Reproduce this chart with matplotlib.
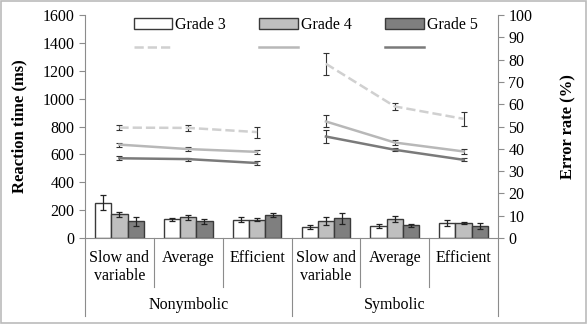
import matplotlib
matplotlib.use("Agg")
import matplotlib.pyplot as plt
import matplotlib.transforms as mtransforms
from matplotlib.lines import Line2D
from matplotlib.patches import Rectangle
import numpy as np

plt.rcParams['font.family'] = ['Liberation Serif', 'DejaVu Serif']
plt.rcParams['font.size'] = 11.5

# data
categories = ["Slow and\nvariable", "Average", "Efficient"]
groups = ["Nonymbolic", "Symbolic"]
grades = ["Grade 3", "Grade 4", "Grade 5"]

# error rate bars (%), nonsymbolic then symbolic
err_g3 = [15.8, 8.3, 8.2, 4.9, 5.5, 6.7]
err_g4 = [10.6, 9.3, 8.2, 7.5, 8.5, 6.7]
err_g5 = [7.4, 7.4, 10.2, 8.8, 5.7, 5.5]
err_g3_sd = [3.4, 0.8, 1.1, 1.0, 0.8, 1.3]
err_g4_sd = [1.1, 1.2, 0.8, 1.7, 1.2, 0.5]
err_g5_sd = [1.9, 0.9, 0.9, 2.4, 0.8, 1.3]

# reaction time lines (ms)
rt_g3 = [792, 790, 760, 1250, 944, 855]
rt_g4 = [670, 638, 618, 836, 685, 621]
rt_g5 = [572, 566, 538, 728, 633, 561]
rt_g3_sd = [20, 22, 40, 77, 26, 48]
rt_g4_sd = [15, 14, 14, 43, 15, 15]
rt_g5_sd = [15, 10, 12, 48, 12, 10]

bar_colors = ["white", "#bfbfbf", "#7f7f7f"]
line_colors = ["#d0d0d0", "#b8b8b8", "#7a7a7a"]
line_styles = ["--", "-", "-"]
axis_gray = "#8c8c8c"

fig = plt.figure(figsize=(5.87, 3.24), dpi=100)
ax = fig.add_axes([85/587, 1-238/324, (498-85)/587, (238-15)/324])
ax2 = ax.twinx()

x = np.arange(6)
w = 0.235
bars = [err_g3, err_g4, err_g5]
bars_sd = [err_g3_sd, err_g4_sd, err_g5_sd]
handles_bar = []
for i in range(3):
    b = ax2.bar(x + (i - 1) * w, bars[i], w, color=bar_colors[i], edgecolor="#3a3a3a",
                linewidth=1.0, yerr=bars_sd[i], capsize=2.5,
                error_kw=dict(ecolor="#222222", elinewidth=0.9, capthick=0.9), zorder=2)
    handles_bar.append(b)

lines = [rt_g3, rt_g4, rt_g5]
lines_sd = [rt_g3_sd, rt_g4_sd, rt_g5_sd]
handles_line = []
for i in range(3):
    for g in range(2):
        xs = x[g*3:(g+1)*3]
        ys = lines[i][g*3:(g+1)*3]
        sd = lines_sd[i][g*3:(g+1)*3]
        ax.errorbar(xs, ys, yerr=sd, color=line_colors[i], ls=line_styles[i], lw=1.8,
                    ecolor="#333333", elinewidth=0.8, capsize=2.5, capthick=0.8, zorder=3)
    handles_line.append(Line2D([0], [0], color=line_colors[i], ls=line_styles[i], lw=1.8))

ax.set_zorder(ax2.get_zorder() + 1)
ax.patch.set_visible(False)

ax.set_xlim(-0.5, 5.5)
ax.set_ylim(0, 1600)
ax.set_yticks(np.arange(0, 1601, 200))
ax2.set_ylim(0, 100)
ax2.set_yticks(np.arange(0, 101, 10))
ax.set_xticks([])

for a in (ax, ax2):
    for s in a.spines.values():
        s.set_color(axis_gray)
    a.spines['top'].set_visible(False)
    a.tick_params(axis='y', colors=axis_gray, labelcolor='black', length=4, width=0.8)
ax2.spines['left'].set_visible(False)
ax.spines['right'].set_visible(False)
ax2.spines['bottom'].set_visible(False)

ax.set_ylabel("Reaction time (ms)", fontweight='bold', fontsize=12)
ax2.set_ylabel("Error rate (%)", fontweight='bold', fontsize=12)
ax.yaxis.set_label_coords(-0.14, 0.5)
ax2.yaxis.set_label_coords(1.15, 0.5)

# category axis
trans = mtransforms.blended_transform_factory(ax.transData, ax.transAxes)
for xs in [0.5, 1.5, 3.5, 4.5]:
    ax.add_line(Line2D([xs, xs], [0, -0.22], transform=trans, color=axis_gray, lw=0.8, clip_on=False))
for xs in [-0.5, 2.5, 5.5]:
    ax.add_line(Line2D([xs, xs], [0, -0.35], transform=trans, color=axis_gray, lw=0.8, clip_on=False))
for g in range(2):
    for j, c in enumerate(categories):
        ax.text(g*3 + j, -0.055, c, transform=trans, ha='center', va='top', linespacing=1.15)
    ax.text(g*3 + 1, -0.3, groups[g], transform=trans, ha='center', va='center')

leg = ax.legend([handles_bar[0], handles_line[0], handles_bar[1], handles_line[1], handles_bar[2], handles_line[2]],
                ["Grade 3", "", "Grade 4", "", "Grade 5", ""], ncol=3, frameon=False,
                loc='upper left', bbox_to_anchor=(0.083, 1.055), handlelength=2.4, handleheight=0.6,
                columnspacing=2.1, handletextpad=0.2, labelspacing=0.45)

fig.patches.append(Rectangle((0.002, 0.003), 0.996, 0.994, transform=fig.transFigure,
                             fill=False, edgecolor="#bbbbbb", lw=1.2))

fig.savefig("out.png", dpi=100)
